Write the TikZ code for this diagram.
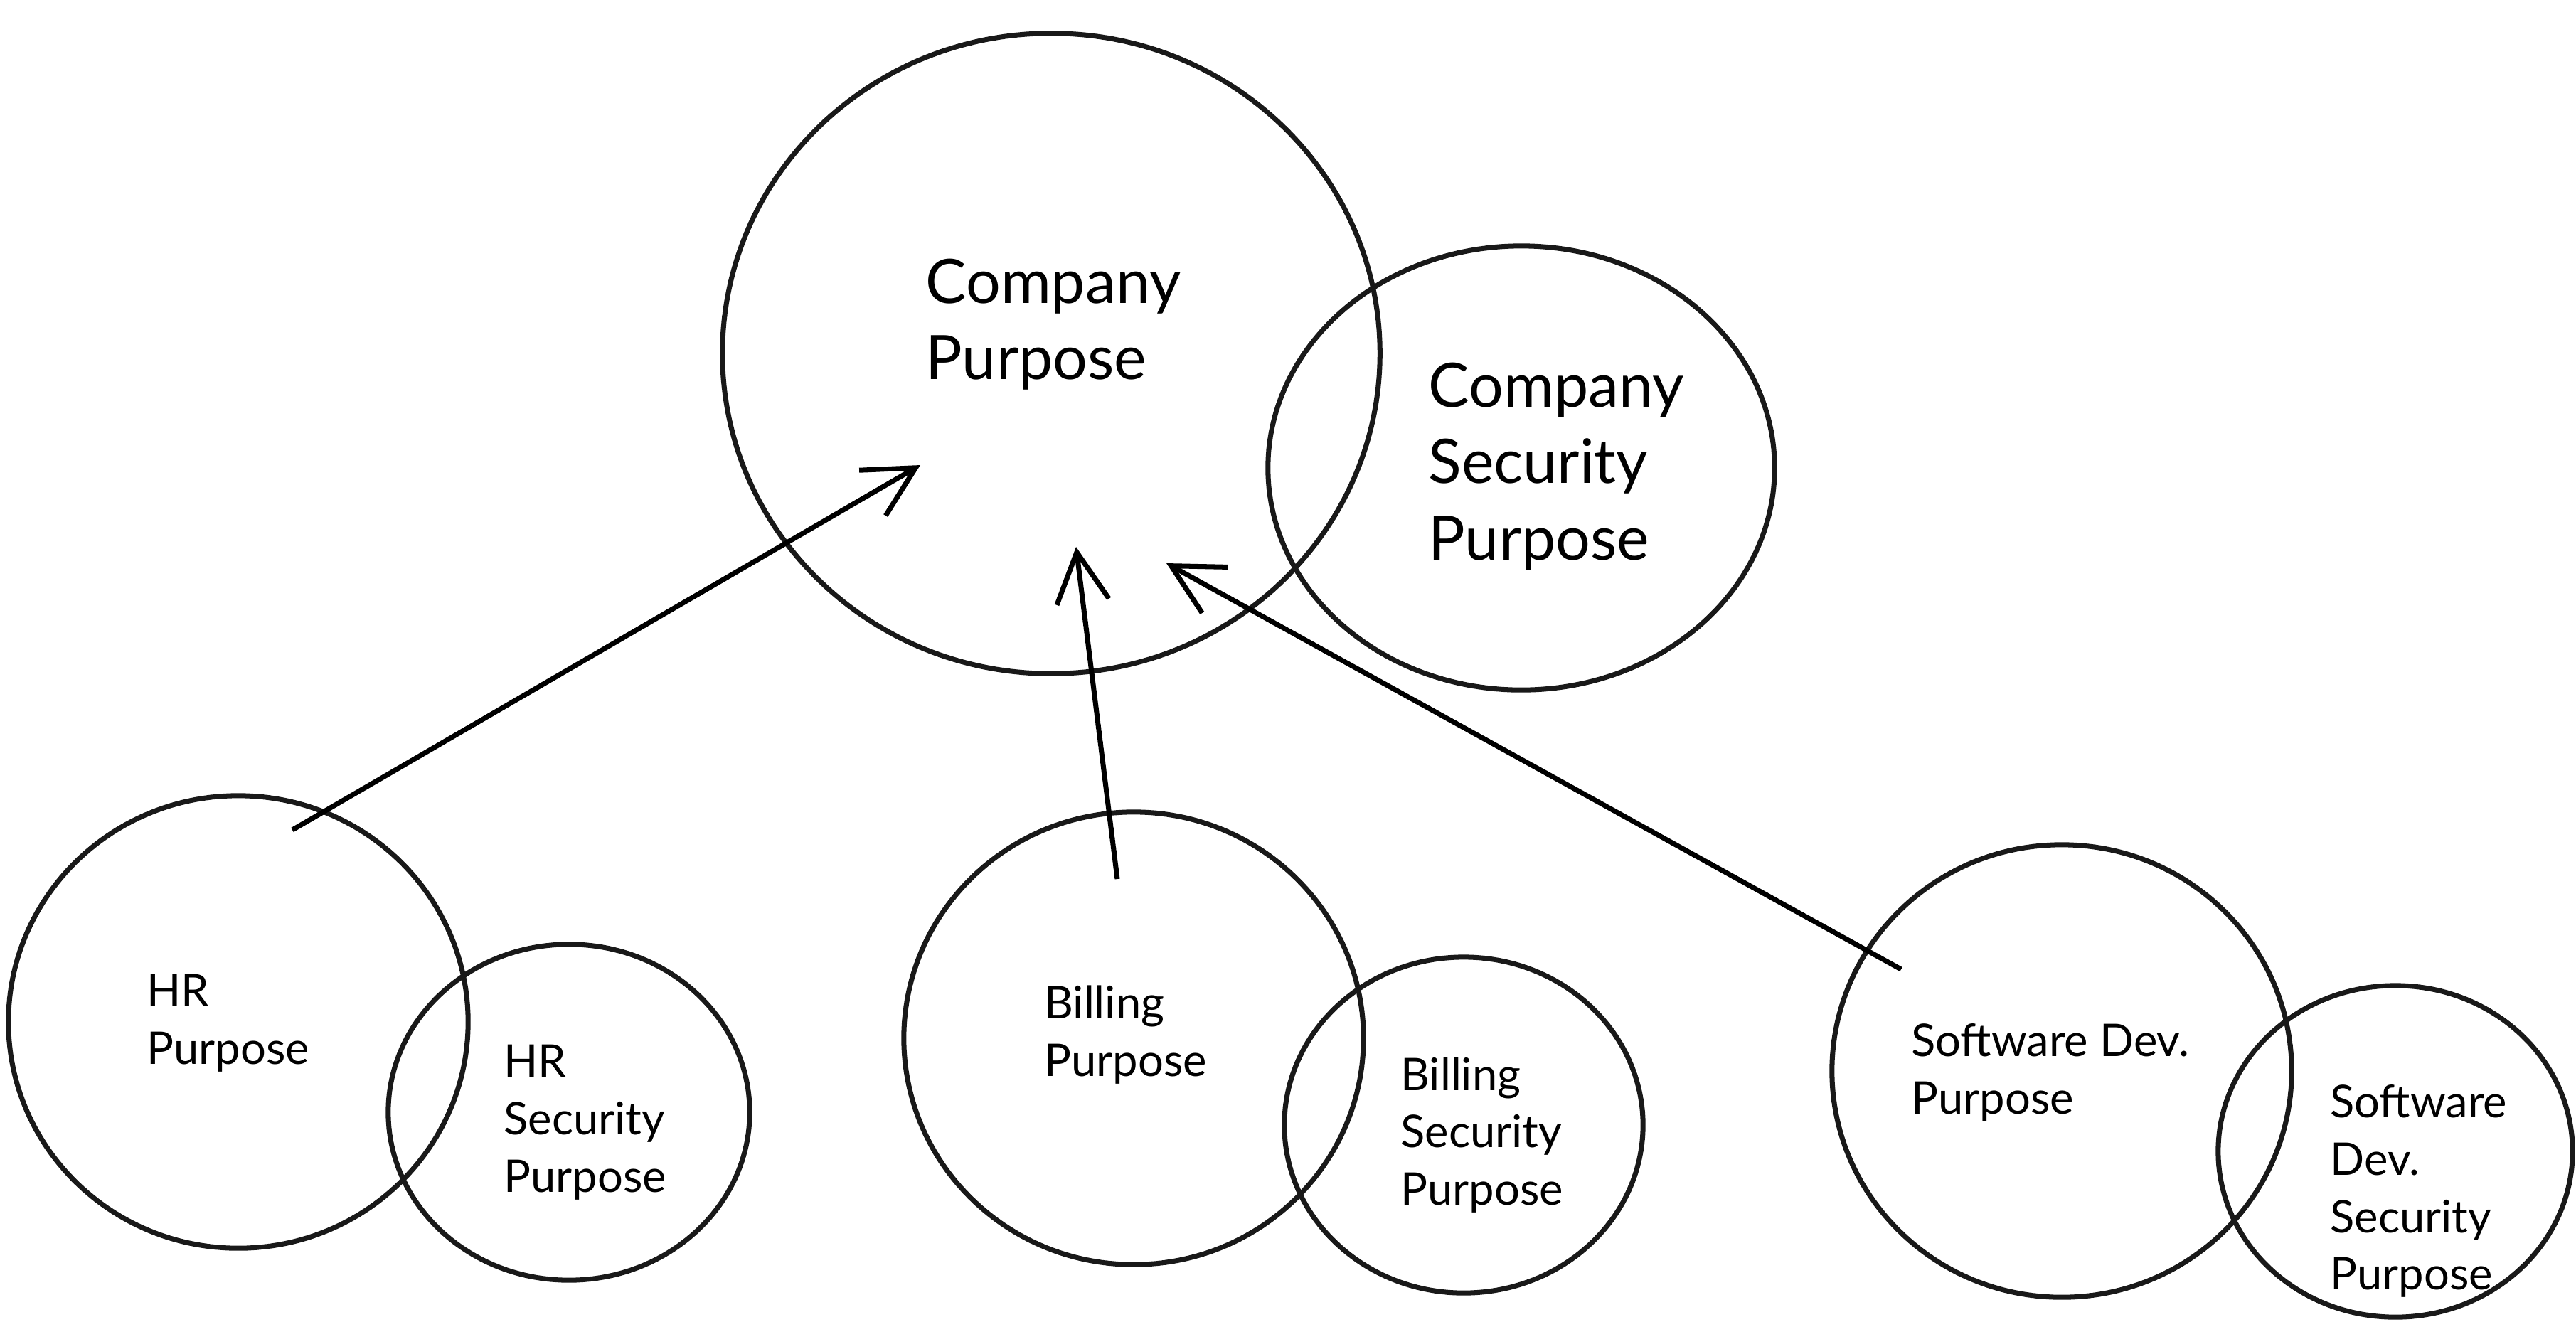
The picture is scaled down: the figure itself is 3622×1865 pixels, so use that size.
\documentclass[tikz,border=0pt]{standalone}
\usepackage{fontspec}
\setmainfont{Lato}
\usetikzlibrary{shapes.geometric,arrows.meta}

\begin{document}
\begin{tikzpicture}[x=0.01cm,y=-0.01cm,line width=2pt,>={Straight Barb[length=20pt,width=21pt]}]
		% \draw[help lines] (0,0) grid (3622,1865);
		\path[use as bounding box] (0,0) rectangle (3622,1865);
		\tikzstyle{blob}=[draw=black!90,ellipse,inner sep=0pt]
		\tikzstyle{bigtxt}=[anchor=west,align=left,inner sep=0pt,font=\fontsize{24.5}{30.5}\selectfont]
		\tikzstyle{smalltxt}=[anchor=west,align=left,inner sep=0pt,font=\fontsize{18}{23}\selectfont]
		
		%% Company
		\draw (1478,497) node [blob,minimum width=9.24cm,minimum height=9.0cm] (cp) {};
		\draw (2139,658) node [blob,minimum width=7.12cm,minimum height=6.24cm] (cs) {};
		\draw (1298,456) node [bigtxt] (cpt) {Company\\Purpose};
		\draw (2005,656) node [bigtxt] (cst) {Company\\Security\\Purpose};
		
		%% HR
		\draw (335,1437) node [blob,minimum width=6.46cm,minimum height=6.36cm] (hp) {};
		\draw (800,1564) node [blob,minimum width=5.08cm,minimum height=4.72cm] (hs) {};
		\draw (203,1439) node [smalltxt] (hpt) {HR\\Purpose};
		\draw (705,1578) node [smalltxt] (hst) {HR\\Security\\Purpose};
		
		%% Billing
		\draw (1594,1460) node [blob,minimum width=6.46cm,minimum height=6.36cm] (bp) {};
		\draw (2058,1582) node [blob,minimum width=5.04cm,minimum height=4.72cm] (bs) {};
		\draw (1465,1455) node [smalltxt] (bpt) {Billing\\Purpose};
		\draw (1966,1596) node [smalltxt] (bst) {Billing\\Security\\Purpose};
		
		%% Software Dev.
		\draw (2899,1506) node [blob,minimum width=6.46cm,minimum height=6.36cm] (sp) {};
		\draw (3368,1619) node [blob,minimum width=4.98cm,minimum height=4.66cm] (ss) {};
		\draw (2684,1508) node [smalltxt] (spt) {Software Dev.\\Purpose};
		\draw (3273,1675) node [smalltxt] (sst) {Software\\Dev.\\Security\\Purpose};
		
		%% Arrows
		\coordinate (hrtail) at (411,1167);
		\coordinate (hrhead) at (1294,654);
		\coordinate (bitail) at (1571,1236);
		\coordinate (bihead) at (1513,769);
		\coordinate (swtail) at (2673,1363);
		\coordinate (swhead) at (1640,792);
		\path [->] (hrtail) edge (hrhead);
		\path [->] (bitail) edge (bihead);
		\path [->] (swtail) edge (swhead);
		
	\end{tikzpicture}
\end{document}
